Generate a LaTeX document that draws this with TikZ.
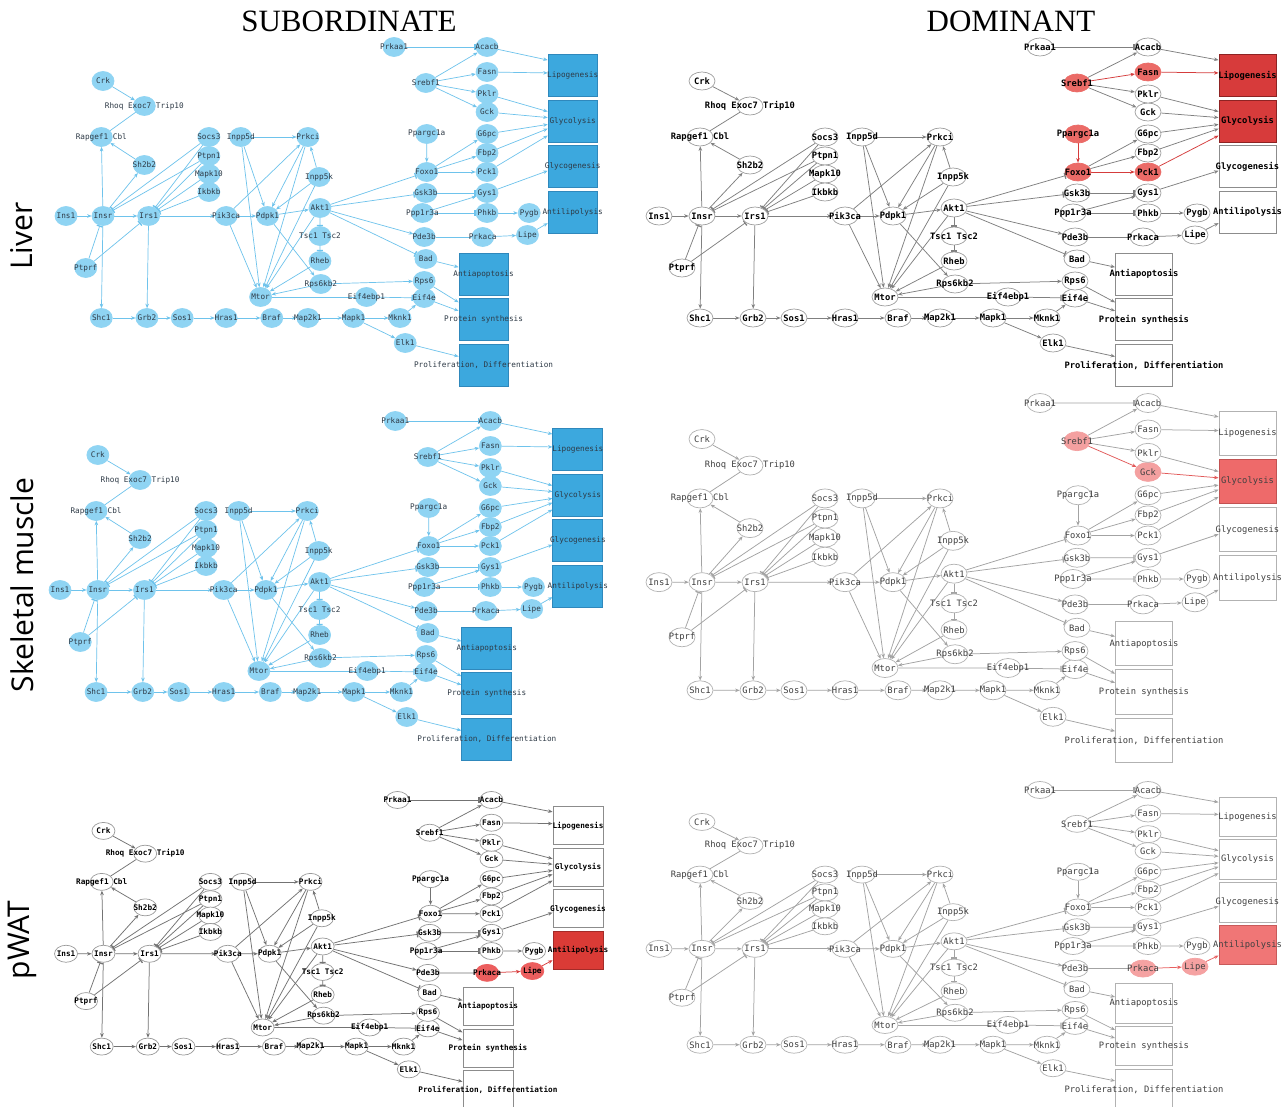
\documentclass[tikz,border=0pt]{standalone}
\usepackage{fontspec}
\setmainfont{Liberation Serif}
\setmonofont{DejaVu Sans Mono}
\newfontfamily\rowfont{Open Sans}
\usetikzlibrary{shapes.geometric,arrows.meta,calc}
\pgfdeclarelayer{bg}
\pgfsetlayers{bg,main}
\definecolor{subn}{HTML}{8FD4F3}
\definecolor{sube}{HTML}{6EC3EC}
\definecolor{subt}{HTML}{2E3A46}
\definecolor{subb}{HTML}{3CA8DE}
\definecolor{subbd}{HTML}{2F88BC}
\newcommand\nfdom{\fontsize{8.8}{10}\selectfont\ttfamily}
\newcommand\nfdomb{\fontsize{8.8}{10}\selectfont\ttfamily\bfseries}
\newcommand\nfsub{\fontsize{7.7}{9}\selectfont\ttfamily}
\newcommand\nfsubb{\fontsize{7.7}{9}\selectfont\ttfamily\bfseries}
\tikzset{
 gnode/.style={ellipse,inner sep=0pt,minimum width=26pt,minimum height=18pt,draw=gray!70,fill=white,line width=0.7pt},
 glbl/.style={inner sep=0pt,text=black,font=\nfdom},
 box/.style={rectangle,inner sep=0pt,minimum width=57pt,minimum height=42pt,draw=gray!70,fill=white,line width=0.9pt},
 edge/.style={draw=gray,line width=0.75pt},
 act/.style={edge,-{Stealth[length=4.5pt,width=3.6pt]}},
 inh/.style={edge,-{Bar[width=6pt,line width=1.3pt]}},
 pl/.style={edge},
 hSrebf1/.style={}, hFasn/.style={}, hPpargc1a/.style={}, hFoxo1/.style={},
 hPck1/.style={}, hGck/.style={}, hPrkaca/.style={}, hLipe/.style={},
 hLipo/.style={}, hGlyco/.style={}, hAntilipo/.style={},
 eSF/.style={}, eFL/.style={}, ePF/.style={}, eFP/.style={}, ePG/.style={},
 eSG/.style={}, eGG/.style={}, ePL/.style={}, eLA/.style={},
 sub/.style={gnode/.append style={fill=subn,draw=subn,minimum width=22pt,minimum height=19pt},
   glbl/.append style={text=subt,font=\nfsub},
   edge/.append style={draw=sube,line width=0.7pt},
   box/.append style={fill=subb,draw=subbd}},
 domA/.style={gnode/.append style={draw=black!38},
   glbl/.append style={font=\nfdomb},
   edge/.append style={draw=black!50},
   box/.append style={draw=black!45}},
 domB/.style={gnode/.append style={draw=black!30},
   glbl/.append style={text=black!75},
   edge/.append style={draw=black!36},
   box/.append style={draw=black!30}},
}
\newcommand\gn[4][]{\node[gnode,#1] (#2) at (#3) {}; \node[glbl] (#2-t) at (#2) {#4};}
\newcommand\bx[4][]{\node[box,#1] (#2) at (#3) {}; \node[glbl] (#2-t) at (#2) {#4};}
\newcommand\net{%
\gn{Crk}{702,81}{Crk}
\gn{Exoc7}{750,106}{Rhoq Exoc7 Trip10}
\gn{Rapgef1}{700,137}{Rapgef1 Cbl}
\gn{Sh2b2}{750,165}{Sh2b2}
\gn{Socs3}{825,137}{Socs3}
\gn{Ptpn1}{825,156}{Ptpn1}
\gn{Mapk10}{825,174}{Mapk10}
\gn{Ikbkb}{825,192}{Ikbkb}
\gn{Inpp5d}{862,137}{Inpp5d}
\gn{Prkci}{940,137}{Prkci}
\gn{Inpp5k}{953,177}{Inpp5k}
\gn{Ins1}{659,216}{Ins1}
\gn{Insr}{702,216}{Insr}
\gn{Irs1}{755,216}{Irs1}
\gn{Pik3ca}{845,216}{Pik3ca}
\gn{Pdpk1}{893,216}{Pdpk1}
\gn{Akt1}{954,208}{Akt1}
\gn{Tsc}{954,236}{Tsc1 Tsc2}
\gn{Rheb}{954,261}{Rheb}
\gn{Rps6kb2}{955,284}{Rps6kb2}
\gn{Mtor}{885,297}{Mtor}
\gn{Ptprf}{682,268}{Ptprf}
\gn{Shc1}{700,318}{Shc1}
\gn{Grb2}{753,318}{Grb2}
\gn{Sos1}{794,318}{Sos1}
\gn{Hras1}{845,318}{Hras1}
\gn{Braf}{898,318}{Braf}
\gn{Map2k1}{940,318}{Map2k1}
\gn{Mapk1}{993,318}{Mapk1}
\gn{Mknk1}{1047,318}{Mknk1}
\gn{Elk1}{1053,343}{Elk1}
\gn{Eif4ebp1}{1008,297}{Eif4ebp1}
\gn{Eif4e}{1075,298}{Eif4e}
\gn{Rps6}{1075,281}{Rps6}
\gn{Bad}{1077,259}{Bad}
\gn{Pde3b}{1075,237}{Pde3b}
\gn[hPrkaca]{Prkaca}{1143,237}{Prkaca}
\gn[hLipe]{Lipe}{1195,235}{Lipe}
\gn{Ppp1r3a}{1073,213}{Ppp1r3a}
\gn{Phkb}{1148,213}{Phkb}
\gn{Pygb}{1197,213}{Pygb}
\gn{Gsk3b}{1077,193}{Gsk3b}
\gn{Gys1}{1148,193}{Gys1}
\gn[hFoxo1]{Foxo1}{1078,172}{Foxo1}
\gn[hPck1]{Pck1}{1148,172}{Pck1}
\gn{Fbp2}{1148,153}{Fbp2}
\gn{G6pc}{1148,134}{G6pc}
\gn[hPpargc1a]{Ppargc1a}{1078,134}{Ppargc1a}
\gn[hGck]{Gck}{1148,112}{Gck}
\gn{Pklr}{1148,94}{Pklr}
\gn[hFasn]{Fasn}{1148,72}{Fasn}
\gn[hSrebf1]{Srebf1}{1077,83}{Srebf1}
\gn{Acacb}{1148,47}{Acacb}
\gn{Prkaa1}{1040,47}{Prkaa1}
\bx[hLipo]{Lipo}{1247.5,75.5}{Lipogenesis}
\bx[hGlyco]{Glyco}{1247.5,121}{Glycolysis}
\bx{Glycogen}{1247.5,166.5}{Glycogenesis}
\bx[hAntilipo]{Antilipo}{1247.5,212}{Antilipolysis}
\bx{Antiapop}{1144,274}{Antiapoptosis}
\bx{Protein}{1144,319.5}{Protein synthesis}
\bx{Prolif}{1144,365.5}{Proliferation, Differentiation}
\begin{pgfonlayer}{bg}
\draw[act] (Crk) -- (Exoc7);
\draw[pl] (Rapgef1) -- (Exoc7);
\draw[act] (Sh2b2) -- (Rapgef1);
\draw[act] (Insr) -- (Rapgef1);
\draw[act] (Insr) -- (Sh2b2);
\draw[inh] (Socs3) -- (Insr);
\draw[inh] (Ptpn1) -- (Insr);
\draw[inh] (Socs3) -- (Irs1);
\draw[inh] (Ptpn1) -- (Irs1);
\draw[inh] (Mapk10) -- (Irs1);
\draw[inh] (Ikbkb) -- (Irs1);
\draw[act] (Ins1) -- (Insr);
\draw[act] (Insr) -- (Irs1);
\draw[inh] (Ptprf) -- (Insr);
\draw[inh] (Ptprf) -- (Irs1);
\draw[act] (Insr) -- (Shc1);
\draw[act] (Irs1) -- (Grb2);
\draw[act] (Shc1) -- (Grb2);
\draw[act] (Grb2) -- (Sos1);
\draw[act] (Sos1) -- (Hras1);
\draw[act] (Hras1) -- (Braf);
\draw[act] (Braf) -- (Map2k1);
\draw[act] (Map2k1) -- (Mapk1);
\draw[act] (Mapk1) -- (Mknk1);
\draw[act] (Mapk1) -- (Elk1);
\draw[act] (Mknk1) -- (Eif4e);
\draw[act] (Irs1) -- (Pik3ca);
\draw[act] (Pik3ca) -- (Pdpk1);
\draw[act] (Pdpk1) -- (Akt1);
\draw[act] (Pik3ca) -- (Prkci);
\draw[act] (Pik3ca) -- (Mtor);
\draw[act] (Inpp5d) -- (Prkci);
\draw[act] (Inpp5d) -- (Pdpk1);
\draw[act] (Inpp5d) -- (Mtor);
\draw[act] (Prkci) -- (Pdpk1);
\draw[act] (Prkci) -- (Mtor);
\draw[act] (Inpp5k) -- (Prkci);
\draw[act] (Inpp5k) -- (Pdpk1);
\draw[act] (Inpp5k) -- (Mtor);
\draw[act] (Akt1) -- (Mtor);
\draw[inh] (Akt1) -- (Tsc);
\draw[inh] (Tsc) -- (Rheb);
\draw[act] (Rheb) -- (Mtor);
\draw[act] (Pdpk1) -- (Rps6kb2);
\draw[act] (Rps6kb2) -- (Mtor);
\draw[act] (Rps6kb2) -- (Rps6);
\draw[pl] (Mtor) -- (Eif4ebp1);
\draw[inh] (Eif4ebp1) -- (Eif4e);
\draw[inh] (Akt1) -- (Foxo1);
\draw[inh] (Akt1) -- (Gsk3b);
\draw[act] (Akt1) -- (Pde3b);
\draw[inh] (Akt1) -- (Bad);
\draw[inh] (Gsk3b) -- (Gys1);
\draw[act] (Ppp1r3a) -- (Gys1);
\draw[inh] (Ppp1r3a) -- (Phkb);
\draw[act] (Phkb) -- (Pygb);
\draw[pl] (Pde3b) -- (Prkaca);
\draw[act,ePL] (Prkaca) -- (Lipe);
\draw[act,eLA] (Lipe) -- ($(Antilipo.north west)!0.76!(Antilipo.south west)$);
\draw[act] (Gys1) -- ($(Glycogen.north west)!0.6!(Glycogen.south west)$);
\draw[inh] (Prkaa1) -- (Acacb);
\draw[act] (Srebf1) -- (Acacb);
\draw[act,eSF] (Srebf1) -- (Fasn);
\draw[act] (Srebf1) -- (Pklr);
\draw[act,eSG] (Srebf1) -- (Gck);
\draw[act] (Acacb) -- ($(Lipo.north west)!0.14!(Lipo.south west)$);
\draw[act,eFL] (Fasn) -- ($(Lipo.north west)!0.44!(Lipo.south west)$);
\draw[act] (Pklr) -- ($(Glyco.north west)!0.28!(Glyco.south west)$);
\draw[act,eGG] (Gck) -- ($(Glyco.north west)!0.42!(Glyco.south west)$);
\draw[act] (G6pc) -- ($(Glyco.north west)!0.58!(Glyco.south west)$);
\draw[act] (Fbp2) -- ($(Glyco.north west)!0.68!(Glyco.south west)$);
\draw[act,ePG] (Pck1) -- ($(Glyco.north west)!0.84!(Glyco.south west)$);
\draw[act,ePF] (Ppargc1a) -- (Foxo1);
\draw[act] (Foxo1) -- (G6pc);
\draw[act] (Foxo1) -- (Fbp2);
\draw[act,eFP] (Foxo1) -- (Pck1);
\draw[act] (Bad) -- ($(Antiapop.north west)!0.34!(Antiapop.south west)$);
\draw[act] (Rps6) -- ($(Protein.north west)!0.1!(Protein.south west)$);
\draw[act] (Eif4e) -- ($(Protein.north west)!0.3!(Protein.south west)$);
\draw[act] (Elk1) -- ($(Prolif.north west)!0.29!(Prolif.south west)$);
\end{pgfonlayer}
}
\begin{document}
\begin{tikzpicture}[x=1pt,y=-1pt]
\begin{pgfonlayer}{bg}
\fill[white] (0,0) rectangle (1285,1107);
\end{pgfonlayer}
\useasboundingbox (0,0) rectangle (1285,1107);
\node[font=\fontsize{31}{36}\selectfont] (tSub) at (349,21) {SUBORDINATE};
\node[font=\fontsize{31}{36}\selectfont] (tDom) at (1011,21) {DOMINANT};
\node[rotate=90,font=\rowfont\fontsize{30}{36}\selectfont] (rL) at (22,236) {Liver};
\node[rotate=90,font=\rowfont\fontsize{30}{36}\selectfont] (rS) at (22,585) {Skeletal muscle};
\node[rotate=90,font=\rowfont\fontsize{30}{36}\selectfont] (rP) at (22,940) {pWAT};
% Liver subordinate
\begin{scope}[name prefix=LS-, shift={(-501.4,0)}, xscale=0.861, sub,
  box/.append style={minimum width=49pt,minimum height=42pt}]
\net
\end{scope}
% Liver dominant
\begin{scope}[name prefix=LD-, domA,
  hSrebf1/.style={fill=hotA,draw=hotA}, hFasn/.style={fill=hotA,draw=hotA},
  hPpargc1a/.style={fill=hotA,draw=hotA}, hFoxo1/.style={fill=hotA,draw=hotA},
  hPck1/.style={fill=hotA,draw=hotA},
  hLipo/.style={fill=boxA,draw=boxAd}, hGlyco/.style={fill=boxA,draw=boxAd},
  eSF/.style={draw=edA}, eFL/.style={draw=edA}, ePF/.style={draw=edA},
  eFP/.style={draw=edA}, ePG/.style={draw=edA}]
\definecolor{hotA}{HTML}{EB6B67}\definecolor{boxA}{HTML}{D73B3B}
\definecolor{boxAd}{HTML}{8E2323}\definecolor{edA}{HTML}{D53C3C}
\net
\end{scope}
% Skeletal subordinate
\begin{scope}[name prefix=SS-, shift={(-519.9,374)}, xscale=0.88, sub,
  box/.append style={minimum width=50pt,minimum height=42pt}]
\net
\end{scope}
% Skeletal dominant
\begin{scope}[name prefix=SD-, shift={(0,353.2)}, yscale=1.06, domB,
  gnode/.append style={minimum height=19pt},
  box/.append style={minimum height=44.5pt},
  hSrebf1/.style={fill=hotB,draw=hotB}, hGck/.style={fill=hotB,draw=hotB},
  hGlyco/.style={fill=boxB,draw=boxBd},
  eSG/.style={draw=edB}, eGG/.style={draw=edB}]
\definecolor{hotB}{HTML}{F4A0A0}\definecolor{boxB}{HTML}{EE6A6A}
\definecolor{boxBd}{HTML}{C25252}\definecolor{edB}{HTML}{E25A5A}
\net
\end{scope}
% pWAT subordinate
\begin{scope}[name prefix=PS-, shift={(-507.3,757.2)}, xscale=0.87, yscale=0.91,
  gnode/.append style={draw=black!40,minimum width=23pt,minimum height=17pt},
  glbl/.append style={font=\nfsubb},
  edge/.append style={draw=black!55},
  box/.append style={draw=black!45,minimum width=50pt,minimum height=38pt},
  hPrkaca/.style={fill=hotC,draw=hotC}, hLipe/.style={fill=hotC,draw=hotC},
  hAntilipo/.style={fill=boxC,draw=boxCd},
  ePL/.style={draw=edC}, eLA/.style={draw=edC}]
\definecolor{hotC}{HTML}{EC5E5E}\definecolor{boxC}{HTML}{DA3B36}
\definecolor{boxCd}{HTML}{A32B28}\definecolor{edC}{HTML}{D83C3C}
\net
\end{scope}
% pWAT dominant
\begin{scope}[name prefix=PD-, shift={(0,745.8)}, yscale=0.94, domB,
  gnode/.append style={minimum height=17pt},
  box/.append style={minimum height=39.5pt},
  hPrkaca/.style={fill=hotD,draw=hotD}, hLipe/.style={fill=hotD,draw=hotD},
  hAntilipo/.style={fill=boxD,draw=boxDd},
  ePL/.style={draw=edD}, eLA/.style={draw=edD}]
\definecolor{hotD}{HTML}{F5A2A2}\definecolor{boxD}{HTML}{F07676}
\definecolor{boxDd}{HTML}{C85A5A}\definecolor{edD}{HTML}{E86060}
\net
\end{scope}
\end{tikzpicture}
\end{document}
